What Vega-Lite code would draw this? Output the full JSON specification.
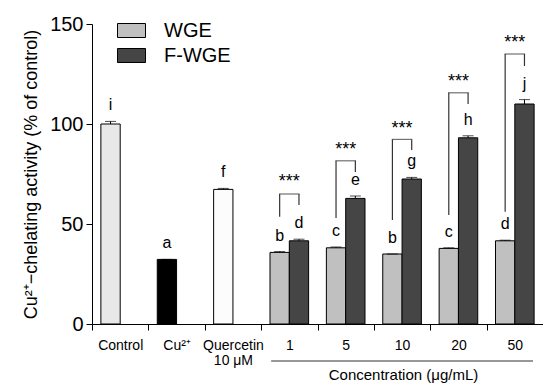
{
  "$schema": "https://vega.github.io/schema/vega-lite/v6.json",
  "width": 451,
  "height": 300,
  "autosize": "none",
  "padding": {"left": 92, "top": 24, "right": 0, "bottom": 59},
  "background": "white",
  "config": {
    "view": {"stroke": null},
    "font": "Liberation Sans",
    "axis": {"grid": false, "domainColor": "black", "tickColor": "black", "labelColor": "black", "titleColor": "black", "labelFont": "Liberation Sans", "titleFont": "Liberation Sans", "titleFontWeight": "normal"}
  },
  "datasets": {
    "bars": [
      {"cat": "Control", "slot": "a", "group": "Control", "value": 100, "hi": 101.3, "letter": "i"},
      {"cat": "Cu²⁺", "slot": "a", "group": "Cu", "value": 32.3, "hi": 32.3, "letter": "a"},
      {"cat": "Quercetin|10 μM", "slot": "a", "group": "Quercetin", "value": 67.3, "hi": 67.8, "letter": "f"},
      {"cat": "1", "slot": "a", "group": "WGE", "value": 35.8, "hi": 36.2, "letter": "b"},
      {"cat": "1", "slot": "b", "group": "F-WGE", "value": 41.6, "hi": 42.4, "letter": "d"},
      {"cat": "5", "slot": "a", "group": "WGE", "value": 38.1, "hi": 38.5, "letter": "c"},
      {"cat": "5", "slot": "b", "group": "F-WGE", "value": 62.8, "hi": 64.0, "letter": "e"},
      {"cat": "10", "slot": "a", "group": "WGE", "value": 35.0, "hi": 35.0, "letter": "b"},
      {"cat": "10", "slot": "b", "group": "F-WGE", "value": 72.5, "hi": 73.3, "letter": "g"},
      {"cat": "20", "slot": "a", "group": "WGE", "value": 37.8, "hi": 38.1, "letter": "c"},
      {"cat": "20", "slot": "b", "group": "F-WGE", "value": 93.1, "hi": 94.1, "letter": "h"},
      {"cat": "50", "slot": "a", "group": "WGE", "value": 41.6, "hi": 41.9, "letter": "d"},
      {"cat": "50", "slot": "b", "group": "F-WGE", "value": 110.0, "hi": 112.2, "letter": "j"}
    ],
    "legs": [
      {"cat": "1", "slot": "a", "lo": 53.6, "top": 65},
      {"cat": "1", "slot": "b", "lo": 59.5, "top": 65},
      {"cat": "5", "slot": "a", "lo": 53, "top": 81.6},
      {"cat": "5", "slot": "b", "lo": 76, "top": 81.6},
      {"cat": "10", "slot": "a", "lo": 52, "top": 92.3},
      {"cat": "10", "slot": "b", "lo": 87, "top": 92.3},
      {"cat": "20", "slot": "a", "lo": 54.5, "top": 115.6},
      {"cat": "20", "slot": "b", "lo": 110, "top": 115.6},
      {"cat": "50", "slot": "a", "lo": 56.1, "top": 135},
      {"cat": "50", "slot": "b", "lo": 129, "top": 135}
    ],
    "tops": [
      {"cat": "1", "top": 65, "star": 73},
      {"cat": "5", "top": 81.6, "star": 89},
      {"cat": "10", "top": 92.3, "star": 99.5},
      {"cat": "20", "top": 115.6, "star": 122.8},
      {"cat": "50", "top": 135, "star": 142.5}
    ]
  },
  "encoding": {
    "x": {
      "field": "cat", "type": "nominal",
      "sort": ["Control", "Cu²⁺", "Quercetin|10 μM", "1", "5", "10", "20", "50"],
      "scale": {"domain": ["Control", "Cu²⁺", "Quercetin|10 μM", "1", "5", "10", "20", "50"], "paddingInner": 0, "paddingOuter": 0},
      "axis": {
        "title": "Concentration (μg/mL)",
        "titleFontSize": 15,
        "titleX": 311, "titleY": 55, "titleAlign": "center", "titleBaseline": "alphabetic", "titleAnchor": null,
        "labelAngle": 0, "labelFontSize": 14, "labelPadding": 8, "tickSize": 6, "tickBand": "extent",
        "labelExpr": "isValid(datum.value) ? split(datum.value, '|') : ''", "labelLineHeight": 15
      }
    },
    "y": {
      "type": "quantitative",
      "scale": {"domain": [0, 150], "nice": false, "zero": true},
      "axis": {"values": [0, 50, 100, 150], "title": "Cu²⁺−chelating activity (% of control)", "titleFontSize": 18, "labelFontSize": 20, "tickSize": 6, "labelPadding": 3, "titlePadding": 9}
    }
  },
  "layer": [
    {
      "data": {"name": "bars"},
      "mark": {"type": "bar", "stroke": "black", "strokeWidth": 1},
      "encoding": {
        "xOffset": {"field": "slot", "type": "nominal", "scale": {"domain": ["a", "b"], "paddingInner": 0, "paddingOuter": 0.46}},
        "y": {"field": "value", "type": "quantitative"},
        "color": {
          "field": "group", "type": "nominal",
          "scale": {"domain": ["WGE", "F-WGE", "Control", "Cu", "Quercetin"], "range": ["#c0c0c0", "#454545", "#e8e8e8", "#000000", "#fcfcfc"]},
          "legend": {
            "values": ["WGE", "F-WGE"], "title": null, "orient": "none", "legendX": 25, "legendY": -8,
            "symbolType": "M-1,-0.5H1V0.5H-1Z", "symbolSize": 784, "symbolStrokeColor": "black", "symbolStrokeWidth": 1, "symbolOpacity": 1,
            "labelFontSize": 20, "labelFont": "Liberation Sans", "labelColor": "black", "labelOffset": 18, "rowPadding": -1
          }
        }
      }
    },
    {
      "data": {"name": "bars"},
      "mark": {"type": "rule", "color": "black", "strokeWidth": 1},
      "encoding": {
        "xOffset": {"field": "slot", "type": "nominal"},
        "y": {"field": "value", "type": "quantitative"},
        "y2": {"field": "hi"}
      }
    },
    {
      "data": {"name": "bars"},
      "mark": {"type": "tick", "color": "black", "thickness": 1, "size": 11, "orient": "horizontal"},
      "encoding": {
        "xOffset": {"field": "slot", "type": "nominal"},
        "y": {"field": "hi", "type": "quantitative"}
      }
    },
    {
      "data": {"name": "bars"},
      "mark": {"type": "text", "fontSize": 16, "baseline": "alphabetic", "dy": -11, "color": "black", "font": "Liberation Sans"},
      "encoding": {
        "xOffset": {"field": "slot", "type": "nominal"},
        "y": {"field": "hi", "type": "quantitative"},
        "text": {"field": "letter"}
      }
    },
    {
      "data": {"name": "legs"},
      "mark": {"type": "rule", "color": "#333333", "strokeWidth": 1.2},
      "encoding": {
        "xOffset": {"field": "slot", "type": "nominal"},
        "y": {"field": "lo", "type": "quantitative"},
        "y2": {"field": "top"}
      }
    },
    {
      "data": {"name": "tops"},
      "mark": {"type": "tick", "color": "#333333", "thickness": 1.2, "size": 20.5, "orient": "horizontal"},
      "encoding": {
        "y": {"field": "top", "type": "quantitative"}
      }
    },
    {
      "data": {"name": "tops"},
      "mark": {"type": "text", "fontSize": 18, "baseline": "alphabetic", "dy": 9, "color": "black", "font": "Liberation Sans"},
      "encoding": {
        "y": {"field": "star", "type": "quantitative"},
        "text": {"value": "***"}
      }
    },
    {
      "data": {"values": [{}]},
      "mark": {"type": "rule", "color": "#333333", "strokeWidth": 1.2, "xOffset": 10, "x2Offset": -10},
      "encoding": {
        "x": {"datum": "1", "bandPosition": 0},
        "x2": {"datum": "50", "bandPosition": 1},
        "y": {"datum": -18.5}
      }
    }
  ]
}
